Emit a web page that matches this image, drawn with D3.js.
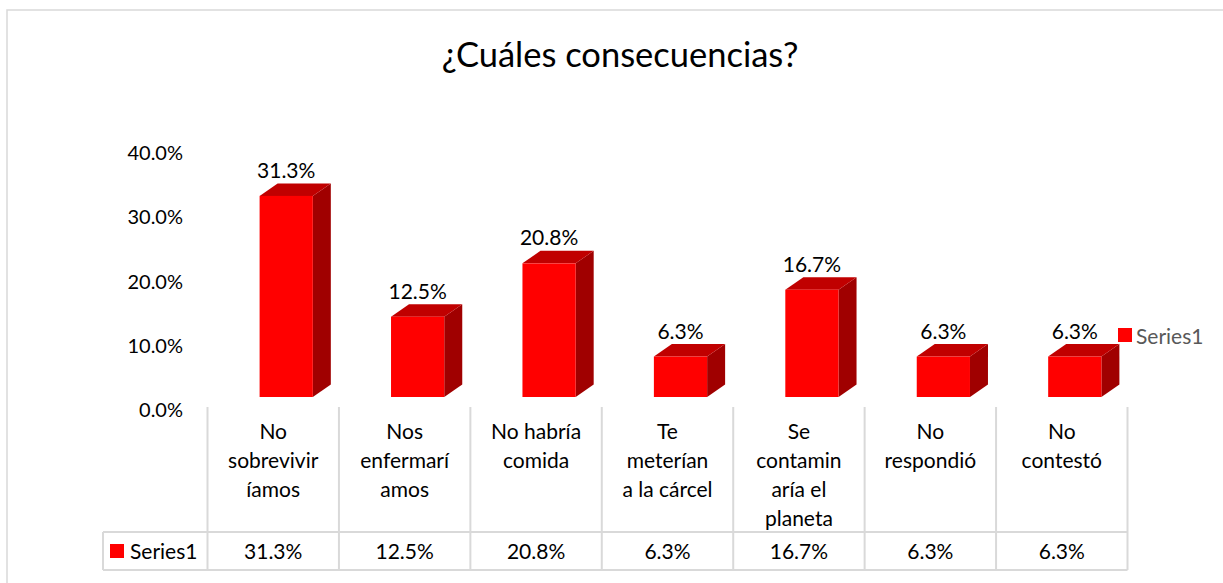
<!DOCTYPE html>
<html>
<head>
<meta charset="utf-8">
<script src="https://cdn.jsdelivr.net/npm/d3@7"></script>
<style>
  body { margin: 0; background: #fff; }
  text { font-family: Lato, "Noto Sans", sans-serif; }
</style>
</head>
<body>
<div id="chart"></div>
<script>
// data
var categories = ["No sobrevivir íamos", "Nos enfermarí amos", "No habría comida", "Te meterían a la cárcel",
                  "Se contamin aría el planeta", "No respondió", "No contestó"];
var labelLines = [["No", "sobrevivir", "íamos"], ["Nos", "enfermarí", "amos"], ["No habría", "comida"],
                  ["Te", "meterían", "a la cárcel"], ["Se", "contamin", "aría el", "planeta"],
                  ["No", "respondió"], ["No", "contestó"]];
var values = [0.313, 0.125, 0.208, 0.063, 0.167, 0.063, 0.063];
var yTicks = [0, 0.1, 0.2, 0.3, 0.4];
var seriesName = "Series1";

var width = 1223, height = 583;
var fs = "21px";

var svg = d3.select("#chart")
  .append("svg")
    .attr("width", width)
    .attr("height", height);

// chart border
svg.append("rect")
  .attr("x", 7).attr("y", 10)
  .attr("width", 1230).attr("height", 600)
  .attr("fill", "#fff")
  .attr("stroke", "#d9d9d9")
  .attr("stroke-width", 1.5);

// title
svg.append("text")
  .attr("x", 620).attr("y", 67)
  .attr("text-anchor", "middle")
  .style("font-size", "34.5px")
  .attr("fill", "#000")
  .text("¿Cuáles consecuencias?");

// scales
var x = d3.scaleBand()
  .domain(categories)
  .range([207.5, 1127.5])
  .padding(0);

var y = d3.scaleLinear()
  .domain([0, 0.4])
  .range([397, 140]);

var fmt = d3.format(".1%");
var depthX = 18, depthY = 12.5;
var barW = x.bandwidth() * 0.405;
var barShift = 13; // perspective shift of the front face

// Y axis labels (no line)
svg.append("g")
  .selectAll("text")
  .data(yTicks)
  .enter().append("text")
    .attr("x", 183)
    .attr("y", function(d) { return y(d) + 12; })
    .attr("text-anchor", "end")
    .attr("dominant-baseline", "central")
    .style("font-size", "20px")
    .attr("fill", "#000")
    .text(function(d) { return fmt(d); });

// 3D bars
var bars = svg.append("g")
  .selectAll("g")
  .data(values)
  .enter().append("g");

function x0(d, i) { return x(categories[i]) + x.bandwidth() / 2 + barShift - barW / 2; }

// side face
bars.append("path")
  .attr("fill", "#a00000")
  .attr("d", function(d, i) {
    var a = x0(d, i) + barW, t = y(d), b = y(0);
    return "M" + a + "," + t + "L" + (a + depthX) + "," + (t - depthY) +
           "L" + (a + depthX) + "," + (b - depthY) + "L" + a + "," + b + "Z";
  });

// top face
bars.append("path")
  .attr("fill", "#c00000")
  .attr("d", function(d, i) {
    var l = x0(d, i), r = l + barW, t = y(d);
    return "M" + l + "," + t + "L" + (l + depthX) + "," + (t - depthY) +
           "L" + (r + depthX) + "," + (t - depthY) + "L" + r + "," + t + "Z";
  });

// front face
bars.append("rect")
  .attr("x", function(d, i) { return x0(d, i); })
  .attr("y", function(d) { return y(d); })
  .attr("width", barW)
  .attr("height", function(d) { return y(0) - y(d); })
  .attr("fill", "#ff0000");

// data labels
bars.append("text")
  .attr("x", function(d, i) { return x0(d, i) + barW / 2; })
  .attr("y", function(d) { return y(d) - 18; })
  .attr("text-anchor", "middle")
  .style("font-size", fs)
  .attr("fill", "#000")
  .text(function(d) { return fmt(d); });

// right legend
svg.append("rect").attr("x", 1118).attr("y", 328).attr("width", 14).attr("height", 14).attr("fill", "#ff0000");
svg.append("text").attr("x", 1136).attr("y", 335).text(seriesName)
  .style("font-size", fs).attr("fill", "#595959").attr("dominant-baseline", "central");

// data table
var grid = svg.append("g")
  .attr("stroke", "#d9d9d9")
  .attr("stroke-width", 2);

var edges = categories.map(function(c) { return x(c); }).concat([x.range()[1]]);
grid.selectAll("line.v")
  .data(edges)
  .enter().append("line")
    .attr("x1", function(d) { return d; }).attr("x2", function(d) { return d; })
    .attr("y1", 407).attr("y2", 570);
grid.append("line").attr("x1", 103).attr("x2", 103).attr("y1", 532).attr("y2", 570);
grid.append("line").attr("x1", 103).attr("x2", x.range()[1]).attr("y1", 532).attr("y2", 532);
grid.append("line").attr("x1", 103).attr("x2", x.range()[1]).attr("y1", 570).attr("y2", 570);

// category labels
svg.append("g")
  .selectAll("text")
  .data(labelLines)
  .enter().append("text")
    .attr("text-anchor", "middle")
    .style("font-size", fs)
    .attr("fill", "#000")
    .each(function(lines, i) {
      var t = d3.select(this);
      lines.forEach(function(s, k) {
        t.append("tspan")
          .attr("x", x(categories[i]) + x.bandwidth() / 2)
          .attr("y", 439 + k * 29)
          .text(s);
      });
    });

// values row
svg.append("g")
  .selectAll("text")
  .data(values)
  .enter().append("text")
    .attr("x", function(d, i) { return x(categories[i]) + x.bandwidth() / 2; })
    .attr("y", 559)
    .attr("text-anchor", "middle")
    .style("font-size", fs)
    .attr("fill", "#000")
    .text(function(d) { return fmt(d); });

// legend key inside the table
svg.append("rect").attr("x", 110).attr("y", 544).attr("width", 14).attr("height", 14).attr("fill", "#ff0000");
svg.append("text").attr("x", 130).attr("y", 559).text(seriesName)
  .style("font-size", fs).attr("fill", "#000");
</script>
</body>
</html>
